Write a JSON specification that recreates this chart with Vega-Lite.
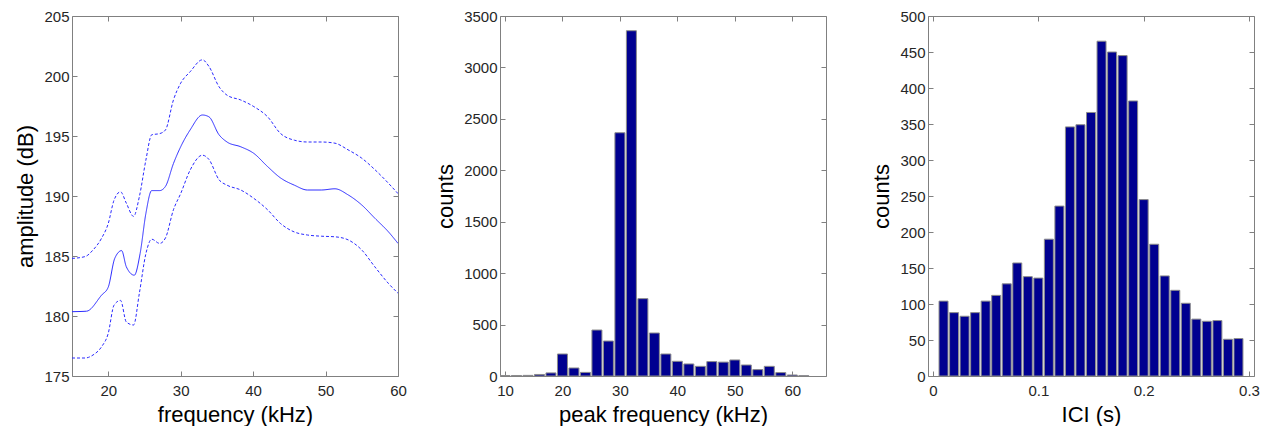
{
  "$schema": "https://vega.github.io/schema/vega-lite/v6.json",
  "padding": {"left": 14, "top": 8, "right": 12, "bottom": 0},
  "bounds": "flush",
  "spacing": 102,
  "background": "white",
  "config": {
    "font": "Liberation Sans",
    "view": {"stroke": "#808080", "strokeWidth": 1},
    "axis": {
      "labelFont": "Liberation Sans",
      "labelFontSize": 15,
      "labelColor": "#262626",
      "titleFont": "Liberation Sans",
      "titleFontSize": 22,
      "titleFontWeight": "normal",
      "titleColor": "#000000",
      "domain": false,
      "grid": false,
      "ticks": true,
      "tickSize": -5,
      "tickColor": "#808080",
      "labelFlush": false,
      "labelOverlap": false
    },
    "axisX": {"labelPadding": 12, "titlePadding": 6},
    "axisY": {"labelPadding": 8, "titlePadding": 6}
  },
  "hconcat": [
    {
      "width": 326,
      "height": 360,
      "data": {"values": [
        {"f": 15, "amp": 180.36, "series": "mean"},
        {"f": 17, "amp": 180.4, "series": "mean"},
        {"f": 19.1, "amp": 181.75, "series": "mean"},
        {"f": 20, "amp": 182.4, "series": "mean"},
        {"f": 20.9, "amp": 184.8, "series": "mean"},
        {"f": 21.85, "amp": 185.45, "series": "mean"},
        {"f": 22.5, "amp": 184.1, "series": "mean"},
        {"f": 23.6, "amp": 183.4, "series": "mean"},
        {"f": 24.4, "amp": 185.2, "series": "mean"},
        {"f": 25.2, "amp": 188.55, "series": "mean"},
        {"f": 26, "amp": 190.45, "series": "mean"},
        {"f": 27.1, "amp": 190.45, "series": "mean"},
        {"f": 27.9, "amp": 190.8, "series": "mean"},
        {"f": 29, "amp": 192.7, "series": "mean"},
        {"f": 30, "amp": 194.1, "series": "mean"},
        {"f": 31.3, "amp": 195.5, "series": "mean"},
        {"f": 33, "amp": 196.75, "series": "mean"},
        {"f": 33.9, "amp": 196.6, "series": "mean"},
        {"f": 35.3, "amp": 195.1, "series": "mean"},
        {"f": 36.4, "amp": 194.5, "series": "mean"},
        {"f": 38.3, "amp": 194.1, "series": "mean"},
        {"f": 40.1, "amp": 193.55, "series": "mean"},
        {"f": 42, "amp": 192.45, "series": "mean"},
        {"f": 43.8, "amp": 191.5, "series": "mean"},
        {"f": 45.7, "amp": 190.9, "series": "mean"},
        {"f": 47.5, "amp": 190.5, "series": "mean"},
        {"f": 49.4, "amp": 190.5, "series": "mean"},
        {"f": 51.3, "amp": 190.6, "series": "mean"},
        {"f": 53.1, "amp": 190.1, "series": "mean"},
        {"f": 55, "amp": 189.25, "series": "mean"},
        {"f": 56.8, "amp": 188.15, "series": "mean"},
        {"f": 58.7, "amp": 187.0, "series": "mean"},
        {"f": 60, "amp": 186.05, "series": "mean"},
        {"f": 15, "amp": 184.8, "series": "upper"},
        {"f": 16.8, "amp": 184.95, "series": "upper"},
        {"f": 17.9, "amp": 185.5, "series": "upper"},
        {"f": 19.1, "amp": 186.5, "series": "upper"},
        {"f": 20, "amp": 187.7, "series": "upper"},
        {"f": 20.8, "amp": 189.65, "series": "upper"},
        {"f": 21.7, "amp": 190.35, "series": "upper"},
        {"f": 22.5, "amp": 189.4, "series": "upper"},
        {"f": 23.5, "amp": 188.3, "series": "upper"},
        {"f": 24.3, "amp": 189.95, "series": "upper"},
        {"f": 25.2, "amp": 193.0, "series": "upper"},
        {"f": 26, "amp": 195.1, "series": "upper"},
        {"f": 27.1, "amp": 195.2, "series": "upper"},
        {"f": 27.9, "amp": 195.5, "series": "upper"},
        {"f": 29, "amp": 198.0, "series": "upper"},
        {"f": 30, "amp": 199.4, "series": "upper"},
        {"f": 31.3, "amp": 200.35, "series": "upper"},
        {"f": 33, "amp": 201.35, "series": "upper"},
        {"f": 33.9, "amp": 200.8, "series": "upper"},
        {"f": 35.3, "amp": 199.1, "series": "upper"},
        {"f": 36.4, "amp": 198.4, "series": "upper"},
        {"f": 38.3, "amp": 198.0, "series": "upper"},
        {"f": 40.1, "amp": 197.45, "series": "upper"},
        {"f": 42, "amp": 196.6, "series": "upper"},
        {"f": 43.8, "amp": 195.2, "series": "upper"},
        {"f": 45.7, "amp": 194.65, "series": "upper"},
        {"f": 47.5, "amp": 194.5, "series": "upper"},
        {"f": 49.4, "amp": 194.5, "series": "upper"},
        {"f": 51.3, "amp": 194.4, "series": "upper"},
        {"f": 53.1, "amp": 193.85, "series": "upper"},
        {"f": 55, "amp": 193.15, "series": "upper"},
        {"f": 56.8, "amp": 192.2, "series": "upper"},
        {"f": 58.7, "amp": 191.05, "series": "upper"},
        {"f": 60, "amp": 190.2, "series": "upper"},
        {"f": 15, "amp": 176.5, "series": "lower"},
        {"f": 16.8, "amp": 176.5, "series": "lower"},
        {"f": 17.9, "amp": 176.75, "series": "lower"},
        {"f": 19.1, "amp": 177.45, "series": "lower"},
        {"f": 20, "amp": 178.55, "series": "lower"},
        {"f": 20.8, "amp": 180.9, "series": "lower"},
        {"f": 21.7, "amp": 181.3, "series": "lower"},
        {"f": 22.5, "amp": 179.5, "series": "lower"},
        {"f": 23.5, "amp": 179.25, "series": "lower"},
        {"f": 24.3, "amp": 181.9, "series": "lower"},
        {"f": 25.2, "amp": 185.2, "series": "lower"},
        {"f": 26, "amp": 186.4, "series": "lower"},
        {"f": 27.1, "amp": 186.05, "series": "lower"},
        {"f": 27.9, "amp": 186.5, "series": "lower"},
        {"f": 29, "amp": 188.85, "series": "lower"},
        {"f": 30, "amp": 190.2, "series": "lower"},
        {"f": 31.3, "amp": 192.15, "series": "lower"},
        {"f": 33, "amp": 193.4, "series": "lower"},
        {"f": 33.9, "amp": 193.05, "series": "lower"},
        {"f": 35.3, "amp": 191.35, "series": "lower"},
        {"f": 36.4, "amp": 190.9, "series": "lower"},
        {"f": 38.3, "amp": 190.5, "series": "lower"},
        {"f": 40.1, "amp": 189.8, "series": "lower"},
        {"f": 42, "amp": 188.85, "series": "lower"},
        {"f": 43.8, "amp": 187.7, "series": "lower"},
        {"f": 45.7, "amp": 187.0, "series": "lower"},
        {"f": 47.5, "amp": 186.75, "series": "lower"},
        {"f": 49.4, "amp": 186.65, "series": "lower"},
        {"f": 51.3, "amp": 186.6, "series": "lower"},
        {"f": 53.1, "amp": 186.35, "series": "lower"},
        {"f": 55, "amp": 185.5, "series": "lower"},
        {"f": 56.8, "amp": 184.1, "series": "lower"},
        {"f": 58.7, "amp": 182.7, "series": "lower"},
        {"f": 60, "amp": 181.9, "series": "lower"}
      ]},
      "layer": [
        {
          "mark": {"type": "line", "strokeWidth": 1, "color": "#2a2aff", "clip": true, "interpolate": "monotone"},
          "encoding": {
            "x": {"field": "f", "type": "quantitative", "scale": {"domain": [15, 60], "nice": false}, "axis": {"title": "frequency (kHz)", "values": [20, 30, 40, 50, 60]}},
            "y": {"field": "amp", "type": "quantitative", "scale": {"domain": [175, 205], "nice": false, "zero": false}, "axis": {"title": "amplitude (dB)", "values": [175, 180, 185, 190, 195, 200, 205]}},
            "strokeDash": {"field": "series", "type": "nominal", "scale": {"domain": ["upper", "mean", "lower"], "range": [[3, 2], [1, 0], [3, 2]]}, "legend": null},
            "detail": {"field": "series"}
          }
        },
        {
          "mark": {"type": "point", "opacity": 0},
          "encoding": {
            "x": {"field": "f", "type": "quantitative", "scale": {"domain": [15, 60], "nice": false}, "axis": {"orient": "top", "labels": false, "title": null, "values": [20, 30, 40, 50, 60]}},
            "y": {"field": "amp", "type": "quantitative", "scale": {"domain": [175, 205], "nice": false, "zero": false}, "axis": {"orient": "right", "labels": false, "title": null, "values": [175, 180, 185, 190, 195, 200, 205]}}
          }
        }
      ],
      "resolve": {"axis": {"x": "independent", "y": "independent"}}
    },
    {
      "width": 326,
      "height": 360,
      "data": {"values": [
        {"kHz": 10, "count": 5}, {"kHz": 12, "count": 5}, {"kHz": 14, "count": 6},
        {"kHz": 16, "count": 15}, {"kHz": 18, "count": 30}, {"kHz": 20, "count": 214},
        {"kHz": 22, "count": 78}, {"kHz": 24, "count": 35}, {"kHz": 26, "count": 447},
        {"kHz": 28, "count": 340}, {"kHz": 30, "count": 2365}, {"kHz": 32, "count": 3357},
        {"kHz": 34, "count": 752}, {"kHz": 36, "count": 418}, {"kHz": 38, "count": 214},
        {"kHz": 40, "count": 143}, {"kHz": 42, "count": 117}, {"kHz": 44, "count": 94},
        {"kHz": 46, "count": 140}, {"kHz": 48, "count": 135}, {"kHz": 50, "count": 156},
        {"kHz": 52, "count": 107}, {"kHz": 54, "count": 62}, {"kHz": 56, "count": 94},
        {"kHz": 58, "count": 33}, {"kHz": 60, "count": 10}, {"kHz": 62, "count": 3}
      ]},
      "layer": [
        {
          "mark": {"type": "bar", "orient": "vertical", "width": 10, "color": "#000090", "stroke": "#8c8c8c", "strokeWidth": 1, "clip": true},
          "encoding": {
            "x": {"field": "kHz", "type": "quantitative", "scale": {"domain": [10, 65], "nice": false}, "axis": {"title": "peak frequency (kHz)", "values": [10, 20, 30, 40, 50, 60]}},
            "y": {"field": "count", "type": "quantitative", "scale": {"domain": [0, 3500], "nice": false}, "axis": {"title": "counts", "format": "d", "values": [0, 500, 1000, 1500, 2000, 2500, 3000, 3500]}}
          }
        },
        {
          "mark": {"type": "point", "opacity": 0},
          "encoding": {
            "x": {"field": "kHz", "type": "quantitative", "scale": {"domain": [10, 65], "nice": false}, "axis": {"orient": "top", "labels": false, "title": null, "values": [10, 20, 30, 40, 50, 60]}},
            "y": {"field": "count", "type": "quantitative", "scale": {"domain": [0, 3500], "nice": false}, "axis": {"orient": "right", "labels": false, "title": null, "values": [0, 500, 1000, 1500, 2000, 2500, 3000, 3500]}}
          }
        }
      ],
      "resolve": {"axis": {"x": "independent", "y": "independent"}}
    },
    {
      "width": 326,
      "height": 360,
      "data": {"values": [
        {"ici": 0.01, "count": 104}, {"ici": 0.02, "count": 88}, {"ici": 0.03, "count": 83},
        {"ici": 0.04, "count": 88}, {"ici": 0.05, "count": 104}, {"ici": 0.06, "count": 112},
        {"ici": 0.07, "count": 128}, {"ici": 0.08, "count": 157}, {"ici": 0.09, "count": 138},
        {"ici": 0.10, "count": 136}, {"ici": 0.11, "count": 190}, {"ici": 0.12, "count": 236},
        {"ici": 0.13, "count": 346}, {"ici": 0.14, "count": 349}, {"ici": 0.15, "count": 366},
        {"ici": 0.16, "count": 465}, {"ici": 0.17, "count": 450}, {"ici": 0.18, "count": 445},
        {"ici": 0.19, "count": 382}, {"ici": 0.20, "count": 245}, {"ici": 0.21, "count": 183},
        {"ici": 0.22, "count": 139}, {"ici": 0.23, "count": 119}, {"ici": 0.24, "count": 101},
        {"ici": 0.25, "count": 79}, {"ici": 0.26, "count": 76}, {"ici": 0.27, "count": 77},
        {"ici": 0.28, "count": 51}, {"ici": 0.29, "count": 52}
      ]},
      "layer": [
        {
          "mark": {"type": "bar", "orient": "vertical", "width": 9, "color": "#000090", "stroke": "#8c8c8c", "strokeWidth": 1, "clip": true},
          "encoding": {
            "x": {"field": "ici", "type": "quantitative", "scale": {"domain": [0, 0.3], "nice": false}, "axis": {"title": "ICI (s)", "format": "~g", "values": [0, 0.1, 0.2, 0.3]}},
            "y": {"field": "count", "type": "quantitative", "scale": {"domain": [0, 500], "nice": false}, "axis": {"title": "counts", "format": "d", "values": [0, 50, 100, 150, 200, 250, 300, 350, 400, 450, 500]}}
          }
        },
        {
          "mark": {"type": "point", "opacity": 0},
          "encoding": {
            "x": {"field": "ici", "type": "quantitative", "scale": {"domain": [0, 0.3], "nice": false}, "axis": {"orient": "top", "labels": false, "title": null, "values": [0, 0.1, 0.2, 0.3]}},
            "y": {"field": "count", "type": "quantitative", "scale": {"domain": [0, 500], "nice": false}, "axis": {"orient": "right", "labels": false, "title": null, "values": [0, 50, 100, 150, 200, 250, 300, 350, 400, 450, 500]}}
          }
        }
      ],
      "resolve": {"axis": {"x": "independent", "y": "independent"}}
    }
  ]
}
